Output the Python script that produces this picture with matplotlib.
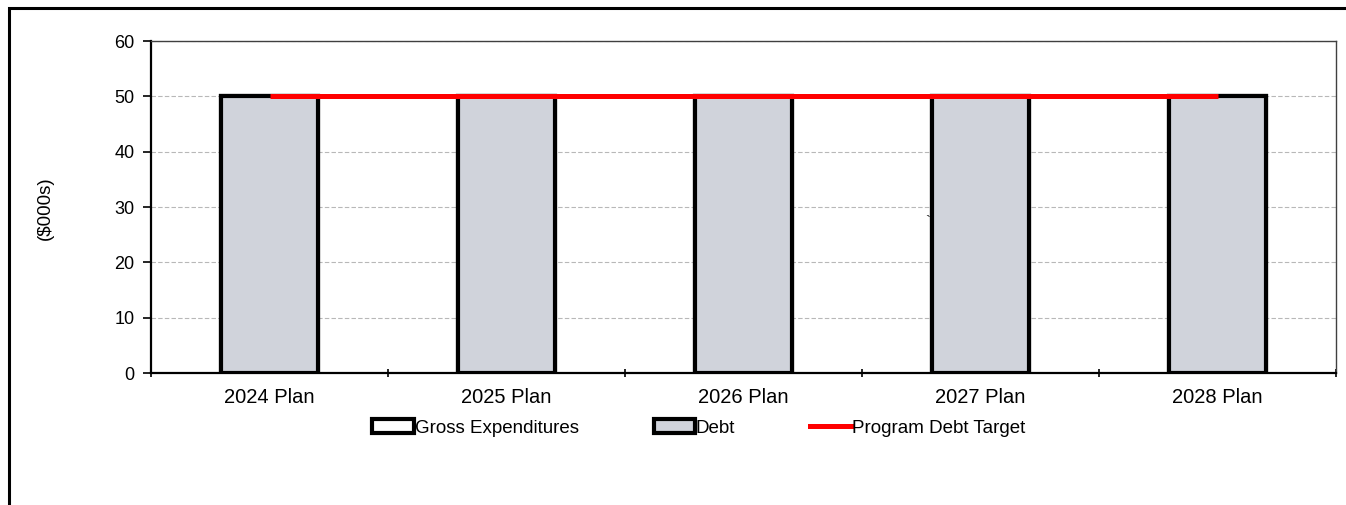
import numpy as np
import matplotlib
matplotlib.use("Agg")
import matplotlib.pyplot as plt
from matplotlib.patches import Rectangle, Patch
from matplotlib.lines import Line2D

plt.rcParams['font.family'] = ['Liberation Sans', 'DejaVu Sans']

# data
categories = ["2024 Plan", "2025 Plan", "2026 Plan", "2027 Plan", "2028 Plan"]
gross_expenditures = [50, 50, 50, 50, 50]
debt = [50, 50, 50, 50, 50]
debt_target = [50, 50, 50, 50, 50]

fig = plt.figure(figsize=(13.46, 5.05), dpi=100)
ax = fig.add_axes([151/1346, 1 - 373/505, (1336-151)/1346, (373-41)/505])

x = np.arange(len(categories))
w = 0.41
ax.bar(x, gross_expenditures, width=w, color='white', edgecolor='black', linewidth=3, zorder=2)
ax.bar(x, debt, width=w, color='#d0d3db', edgecolor='black', linewidth=3, zorder=3)
ax.plot(x, debt_target, color='#ff0000', linewidth=3.6, zorder=4, solid_capstyle='butt')

ax.set_xlim(-0.5, len(categories) - 0.5)
ax.set_ylim(0, 60)
ax.set_yticks(range(0, 61, 10))
ax.yaxis.grid(True, linestyle=(0, (4, 2)), color='#b8b8b8', linewidth=0.8, zorder=0)
ax.set_axisbelow(True)

# category boundaries as ticks, labels centered
ax.set_xticks(np.arange(-0.5, len(categories), 1.0))
ax.set_xticklabels([])
ax.set_xticks(x, minor=True)
ax.set_xticklabels(categories, minor=True, fontsize=14.5)
ax.tick_params(axis='x', which='major', length=6, width=1.2, direction='inout')
ax.tick_params(axis='x', which='minor', length=0, pad=11)
ax.tick_params(axis='y', length=6, width=1.2, labelsize=13, pad=6)

for s in ['left', 'bottom']:
    ax.spines[s].set_linewidth(1.6)
    ax.spines[s].set_color('black')
for s in ['top', 'right']:
    ax.spines[s].set_linewidth(1.0)
    ax.spines[s].set_color('#404040')

fig.text(45/1346, 1 - 208/505, "($000s)", rotation=90, fontsize=13.5, ha='center', va='center')
fig.text(928/1346, 1 - 222/505, "`", fontsize=11, ha='center', va='center', color='#202020')

handles = [
    Patch(facecolor='white', edgecolor='black', linewidth=3),
    Patch(facecolor='#d0d3db', edgecolor='black', linewidth=3),
    Line2D([0], [0], color='#ff0000', linewidth=3.6),
]
fig.legend(handles, ["Gross Expenditures", "Debt", "Program Debt Target"],
           loc='center', bbox_to_anchor=(699/1346, 1 - 428/505), ncol=3,
           frameon=False, fontsize=13.5, handlelength=2.2, handleheight=0.7,
           handletextpad=0.05, columnspacing=4.0)

# outer chart frame (partially cropped)
fig.patches.append(Rectangle((9/1346, -0.2), 1.2, 1.2 - 8/505, transform=fig.transFigure,
                             fill=False, edgecolor='black', linewidth=2.2, clip_on=False))

fig.savefig("out.png", dpi=100)
